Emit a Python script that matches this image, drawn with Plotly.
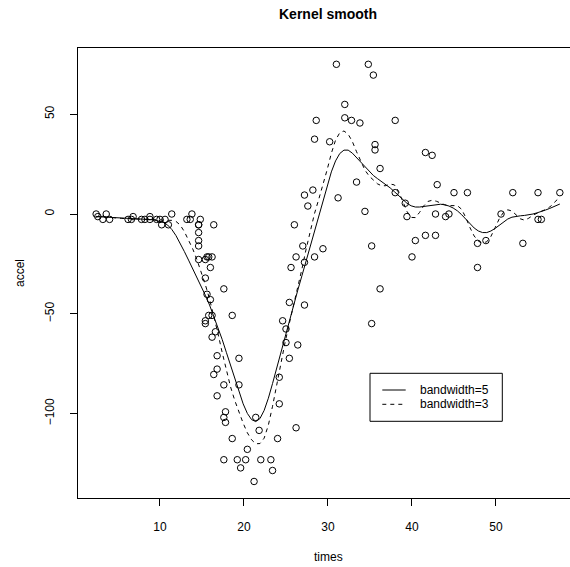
import plotly.graph_objects as go

# Observed data (motorcycle accident: time after impact vs head acceleration)
times = [2.4, 2.6, 3.2, 3.6, 4.0, 6.2, 6.6, 6.8, 7.8, 8.2, 8.8, 8.8, 9.6, 10.0, 10.2, 10.6, 11.0, 11.4, 13.2, 13.6,
         13.8, 14.6, 14.6, 14.6, 14.6, 14.6, 14.6, 14.8, 15.4, 15.4, 15.4, 15.4, 15.6, 15.6, 15.8, 15.8, 16.0, 16.0,
         16.2, 16.2, 16.2, 16.4, 16.4, 16.6, 16.8, 16.8, 16.8, 17.6, 17.6, 17.6, 17.6, 17.8, 17.8, 18.6, 18.6, 19.2,
         19.4, 19.4, 19.6, 20.2, 20.4, 21.2, 21.4, 21.8, 22.0, 23.2, 23.4, 24.0, 24.2, 24.2, 24.6, 25.0, 25.0, 25.4,
         25.4, 25.6, 26.0, 26.2, 26.2, 26.4, 27.0, 27.2, 27.2, 27.2, 27.6, 28.2, 28.4, 28.4, 28.6, 29.4, 30.2, 31.0,
         31.2, 32.0, 32.0, 32.8, 33.4, 33.8, 34.4, 34.8, 35.2, 35.2, 35.4, 35.6, 35.6, 36.2, 36.2, 38.0, 38.0, 39.2,
         39.4, 40.0, 40.4, 41.6, 41.6, 42.4, 42.8, 42.8, 43.0, 44.0, 44.4, 45.0, 46.6, 47.8, 47.8, 48.8, 50.6, 52.0,
         53.2, 55.0, 55.0, 55.4, 57.6]
accel = [0.0, -1.3, -2.7, 0.0, -2.7, -2.7, -2.7, -1.3, -2.7, -2.7, -1.3, -2.7, -2.7, -2.7, -5.4, -2.7, -5.4, 0.0,
         -2.7, -2.7, 0.0, -13.3, -5.4, -5.4, -9.3, -16.0, -22.8, -2.7, -22.8, -32.1, -53.5, -54.9, -40.2, -21.5,
         -21.5, -50.8, -42.9, -26.8, -21.5, -50.8, -61.7, -5.4, -80.4, -59.0, -71.0, -91.1, -77.7, -37.5, -85.6,
         -123.1, -101.9, -99.1, -104.4, -112.5, -50.8, -123.1, -85.6, -72.3, -127.2, -123.1, -117.9, -134.0, -101.9,
         -108.4, -123.1, -123.1, -128.5, -112.5, -95.1, -81.8, -53.5, -64.4, -57.6, -72.3, -44.3, -26.8, -5.4,
         -107.1, -21.5, -65.6, -16.0, -45.6, -24.2, 9.5, 4.0, 12.0, -21.5, 37.5, 46.9, -17.4, 36.2, 75.0, 8.1, 54.9,
         48.2, 46.9, 16.0, 45.6, 1.3, 75.0, -16.0, -54.9, 69.6, 34.8, 32.1, -37.5, 22.8, 46.9, 10.7, 5.4, -1.3,
         -21.5, -13.3, 30.8, -10.7, 29.4, 0.0, -10.7, 14.7, -1.3, 0.0, 10.7, 10.7, -26.8, -14.7, -13.3, 0.0, 10.7,
         -14.7, -2.7, 10.7, -2.7, 10.7]

# Kernel-smooth curves (values tabulated at these times)
smooth_x = [2.4, 2.9, 3.4, 3.9, 4.4, 4.9, 5.4, 5.9, 6.4, 6.9, 7.4, 7.9, 8.4, 8.9, 9.4, 9.9, 10.4, 10.9, 11.4, 11.9,
            12.4, 12.9, 13.4, 13.9, 14.4, 14.9, 15.4, 15.9, 16.4, 16.9, 17.4, 17.9, 18.4, 18.9, 19.4, 19.9, 20.4,
            20.9, 21.4, 21.9, 22.4, 22.9, 23.4, 23.9, 24.4, 24.9, 25.4, 25.9, 26.4, 26.9, 27.4, 27.9, 28.4, 28.9,
            29.4, 29.9, 30.4, 30.9, 31.4, 31.9, 32.4, 32.9, 33.4, 33.9, 34.4, 34.9, 35.4, 35.9, 36.4, 36.9, 37.4,
            37.9, 38.4, 38.9, 39.4, 39.9, 40.4, 40.9, 41.4, 41.9, 42.4, 42.9, 43.4, 43.9, 44.4, 44.9, 45.4, 45.9,
            46.4, 46.9, 47.4, 47.9, 48.4, 48.9, 49.4, 49.9, 50.4, 50.9, 51.4, 51.9, 52.4, 52.9, 53.4, 53.9, 54.4,
            54.9, 55.4, 55.9, 56.4, 56.9, 57.4, 57.6]
smooth_bw5 = [-1.3, -1.4, -1.5, -1.6, -1.8, -1.9, -2.0, -2.2, -2.3, -2.4, -2.5, -2.6, -2.7, -2.8, -3.1, -3.5, -4.2,
              -5.5, -7.7, -10.8, -14.6, -18.8, -23.1, -27.3, -31.6, -36.1, -40.7, -45.6, -51.0, -56.7, -62.8, -69.3,
              -76.0, -82.8, -89.3, -95.1, -99.9, -103.0, -104.0, -102.5, -98.4, -92.3, -84.9, -76.9, -68.8, -60.9,
              -53.1, -45.6, -38.2, -30.9, -23.5, -16.1, -8.6, -1.0, 6.7, 14.2, 21.1, 26.6, 30.3, 32.0, 32.0, 30.5,
              28.3, 25.8, 23.4, 21.2, 19.3, 17.7, 16.2, 14.7, 13.1, 11.2, 9.2, 7.1, 5.4, 4.1, 3.5, 3.5, 3.8, 4.2,
              4.6, 4.9, 4.9, 4.6, 4.0, 3.0, 1.6, -0.3, -2.6, -4.9, -7.0, -8.5, -9.3, -9.3, -8.5, -7.2, -5.5, -3.8,
              -2.5, -1.6, -1.1, -0.9, -0.7, -0.4, 0.0, 0.6, 1.2, 2.0, 2.8, 3.7, 4.6, 5.0]
smooth_bw3 = [-1.2, -1.3, -1.4, -1.6, -1.7, -2.0, -2.2, -2.3, -2.3, -2.3, -2.4, -2.4, -2.5, -2.7, -2.9, -3.0, -3.1,
              -3.1, -3.2, -3.7, -5.5, -8.8, -12.8, -17.5, -22.9, -28.8, -35.4, -42.6, -50.8, -59.8, -69.3, -78.5,
              -86.6, -93.4, -99.4, -104.8, -109.6, -113.1, -115.1, -115.0, -112.3, -105.8, -96.3, -85.3, -74.3,
              -64.1, -54.8, -46.1, -37.1, -27.5, -17.5, -8.0, 0.3, 7.4, 14.3, 22.2, 30.4, 37.0, 40.7, 41.6, 40.0,
              36.3, 31.2, 26.2, 22.0, 19.0, 16.8, 15.1, 14.1, 14.2, 15.0, 14.6, 11.4, 6.2, 1.3, -1.7, -1.8, 0.8,
              4.1, 6.3, 6.9, 6.4, 5.5, 4.6, 4.2, 4.3, 4.2, 2.4, -1.7, -6.8, -11.0, -13.6, -14.6, -13.9, -11.2, -6.8,
              -2.3, 0.9, 2.1, 1.5, -0.4, -2.4, -3.1, -2.1, -0.6, 0.6, 1.4, 2.2, 3.5, 5.6, 7.8, 8.5]

x_ticks = [10, 20, 30, 40, 50]
y_ticks = [-100, -50, 0, 50]
legend_labels = ["bandwidth=5", "bandwidth=3"]

FONT = "Liberation Sans, Arial, Helvetica, sans-serif"
W, H = 570, 567
ML, MR, MT, MB = 78, 0, 48, 69

fig = go.Figure()
fig.add_trace(go.Scatter(x=times, y=accel, mode="markers",
                         marker=dict(symbol="circle-open", size=6.5, color="black", line=dict(width=1, color="black")),
                         showlegend=False, hoverinfo="skip"))
fig.add_trace(go.Scatter(x=smooth_x, y=smooth_bw5, mode="lines", line=dict(color="black", width=1),
                         name=legend_labels[0], showlegend=False))
fig.add_trace(go.Scatter(x=smooth_x, y=smooth_bw3, mode="lines", line=dict(color="black", width=1, dash="4px,4px"),
                         name=legend_labels[1], showlegend=False))

pw = W - ML - MR
ph = H - MT - MB


def px(xp):
    return (xp - ML) / pw


def py(yp):
    return (H - MB - yp) / ph


# Legend drawn manually (box, line samples, labels)
shapes = [
    dict(type="rect", xref="paper", yref="paper", x0=px(370), x1=px(502.3), y0=py(421.3), y1=py(373.3),
         line=dict(color="black", width=1), fillcolor="rgba(0,0,0,0)"),
    dict(type="line", xref="paper", yref="paper", x0=px(382.3), x1=px(405.7), y0=py(390), y1=py(390),
         line=dict(color="black", width=1)),
    dict(type="line", xref="paper", yref="paper", x0=px(382.3), x1=px(405.7), y0=py(404.3), y1=py(404.3),
         line=dict(color="black", width=1, dash="4px,4px")),
]
annotations = [
    dict(text=legend_labels[0], xref="paper", yref="paper", x=px(417.5), y=py(390), xanchor="left",
         yanchor="middle", showarrow=False, font=dict(family=FONT, size=12, color="black")),
    dict(text=legend_labels[1], xref="paper", yref="paper", x=px(417.5), y=py(404.3), xanchor="left",
         yanchor="middle", showarrow=False, font=dict(family=FONT, size=12, color="black")),
    dict(text="times", xref="paper", yref="paper", x=px(328), y=py(557.3), xanchor="center", yanchor="middle",
         showarrow=False, font=dict(family=FONT, size=12, color="black")),
    dict(text="accel", xref="paper", yref="paper", x=px(20), y=py(273), xanchor="center", yanchor="middle",
         textangle=-90, showarrow=False, font=dict(family=FONT, size=12, color="black")),
]

fig.update_layout(
    width=W, height=H,
    margin=dict(l=ML, r=MR, t=MT, b=MB, pad=0),
    paper_bgcolor="white", plot_bgcolor="white",
    font=dict(family=FONT, size=12, color="black"),
    title=dict(text="<b>Kernel smooth</b>", x=328 / W, xanchor="center", xref="container",
               y=1 - 14.5 / H, yanchor="middle", yref="container",
               font=dict(family=FONT, size=14, color="black")),
    xaxis=dict(range=[0.24, 58.81], tickvals=x_ticks, ticks="outside", ticklen=7, tickwidth=1,
               tickcolor="black", showline=True, linecolor="black", linewidth=1, mirror=True,
               showgrid=False, zeroline=False, ticklabelstandoff=11,
               tickfont=dict(family=FONT, size=12, color="black")),
    yaxis=dict(range=[-142.28, 83.17], tickvals=y_ticks, ticks="outside", ticklen=7, tickwidth=1,
               tickcolor="black", showline=True, linecolor="black", linewidth=1, mirror=False,
               showgrid=False, zeroline=False, tickangle=-90, ticklabelstandoff=11,
               tickfont=dict(family=FONT, size=12, color="black")),
    shapes=shapes, annotations=annotations, showlegend=False,
)

fig.write_html("out.html", config={"displayModeBar": False, "staticPlot": True},
               post_script="document.documentElement.style.margin='0';document.body.style.margin='0';"
                           "document.body.style.padding='0';document.body.style.overflow='hidden';")
